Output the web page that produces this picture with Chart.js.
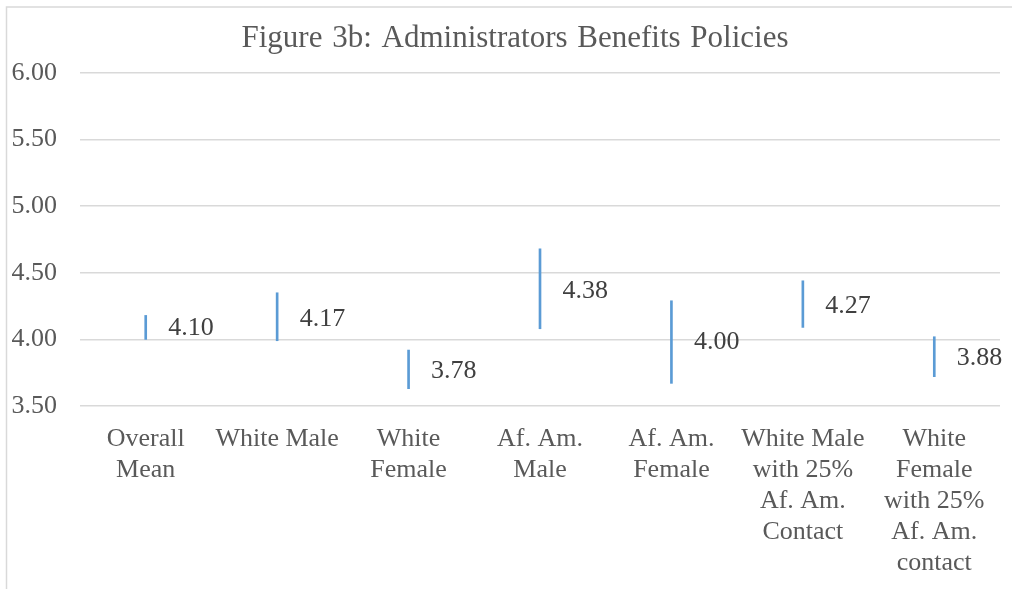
<!DOCTYPE html>
<html>
<head>
<meta charset="utf-8">
<script src="https://cdn.jsdelivr.net/npm/chart.js@4.4.1/dist/chart.umd.min.js"></script>
<style>
  html, body { margin: 0; padding: 0; background: #ffffff; }
  #wrap { position: relative; width: 1012px; height: 589px; overflow: hidden; }
  canvas { display: block; }
</style>
</head>
<body>
<div id="wrap"><canvas id="c" width="1012" height="589"></canvas></div>
<script>
// ---- data ----
const categories = [
  ["Overall", "Mean"],
  "White Male",
  ["White", "Female"],
  ["Af. Am.", "Male"],
  ["Af. Am.", "Female"],
  ["White Male", "with 25%", "Af. Am.", "Contact"],
  ["White", "Female", "with 25%", "Af. Am.", "contact"]
];
const lowValues   = [4.00, 3.99, 3.63, 4.08, 3.67, 4.09, 3.72];
const highValues  = [4.18, 4.35, 3.92, 4.68, 4.29, 4.44, 4.02];
const meanValues  = [4.10, 4.17, 3.78, 4.38, 4.00, 4.27, 3.88];
const yTicks      = [3.50, 4.00, 4.50, 5.00, 5.50, 6.00];
const titleText   = "Figure 3b: Administrators Benefits Policies";

const SERIF = "'Liberation Serif', 'Times New Roman', serif";

const frameAndTitle = {
  id: 'frameAndTitle',
  beforeDraw(chart) {
    const ctx = chart.ctx;
    ctx.save();
    ctx.strokeStyle = '#d9d9d9';
    ctx.lineWidth = 1.5;
    ctx.beginPath();
    ctx.moveTo(6.5, 589);
    ctx.lineTo(6.5, 7);
    ctx.lineTo(1012, 7);
    ctx.stroke();
    ctx.restore();
  },
  afterDraw(chart) {
    const ctx = chart.ctx;
    ctx.save();
    ctx.fillStyle = '#595959';
    ctx.font = '31px ' + SERIF;
    ctx.textAlign = 'center';
    ctx.textBaseline = 'alphabetic';
    if ('wordSpacing' in ctx) ctx.wordSpacing = '2px';
    ctx.fillText(titleText, 515, 47);
    ctx.restore();
  }
};

const meanLabels = {
  id: 'meanLabels',
  afterDatasetsDraw(chart) {
    const ctx = chart.ctx;
    const meta = chart.getDatasetMeta(0);
    const yScale = chart.scales.y;
    ctx.save();
    ctx.fillStyle = '#404040';
    ctx.font = '26px ' + SERIF;
    ctx.textAlign = 'left';
    ctx.textBaseline = 'middle';
    meta.data.forEach((bar, i) => {
      const y = yScale.getPixelForValue(meanValues[i]) + 2.5;
      ctx.fillText(meanValues[i].toFixed(2), bar.x + 22.5, y);
    });
    ctx.restore();
  }
};

new Chart(document.getElementById('c'), {
  type: 'bar',
  data: {
    labels: categories,
    datasets: [{
      data: categories.map((_, i) => [lowValues[i], highValues[i]]),
      backgroundColor: '#5b9bd5',
      borderWidth: 0,
      barThickness: 2
    }]
  },
  options: {
    responsive: false,
    animation: false,
    devicePixelRatio: 1,
    layout: { padding: { top: 73, right: 12, left: 0, bottom: 0 } },
    plugins: {
      legend: { display: false },
      tooltip: { enabled: false },
      title: { display: false }
    },
    scales: {
      y: {
        min: 3.5,
        max: 6.0,
        afterFit(scale) { scale.width = 80; },
        afterBuildTicks(scale) { scale.ticks = yTicks.map(v => ({ value: v })); },
        border: { display: false },
        grid: { color: '#d9d9d9', lineWidth: 1.5, drawTicks: false },
        ticks: {
          padding: 23,
          color: '#595959',
          font: { family: SERIF, size: 26 },
          callback: (v) => Number(v).toFixed(2)
        }
      },
      x: {
        afterFit(scale) { scale.height = 183; },
        border: { display: false },
        grid: { display: false, drawTicks: false },
        ticks: {
          padding: 18,
          maxRotation: 0,
          minRotation: 0,
          autoSkip: false,
          color: '#595959',
          font: { family: SERIF, size: 26, lineHeight: 31 / 26 }
        }
      }
    }
  },
  plugins: [frameAndTitle, meanLabels]
});
</script>
</body>
</html>
